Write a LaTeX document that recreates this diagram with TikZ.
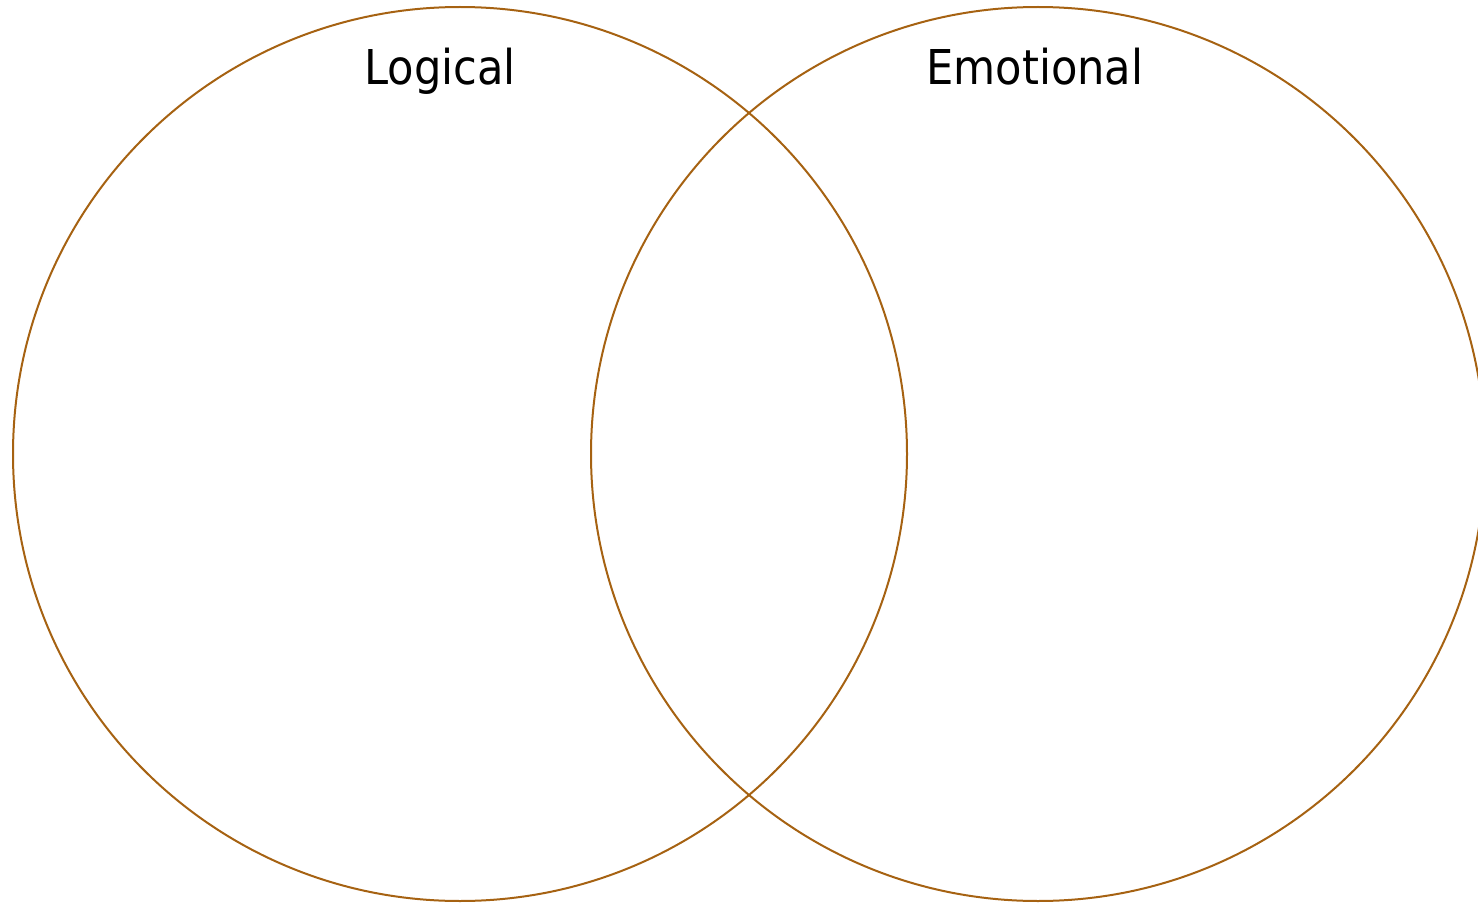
\documentclass[tikz,border=0pt]{standalone}
\usepackage{fontspec}
\setmainfont{DejaVu Sans Condensed}
\definecolor{ring}{RGB}{166,98,18}
\begin{document}
\begin{tikzpicture}[x=1pt,y=-1pt,
  ring/.style={draw=ring,line width=2pt},
  lbl/.style={font=\fontsize{48}{50}\selectfont,anchor=base,inner sep=0pt}]
\useasboundingbox (0,0) rectangle (1478,904);
\draw[ring] (460,454) circle[radius=447];
\draw[ring] (1038,454) circle[radius=447];
\node[lbl] (logical) at (440,85) {Logical};
\node[lbl] (emotional) at (1035,85) {Emotional};
\end{tikzpicture}
\end{document}
